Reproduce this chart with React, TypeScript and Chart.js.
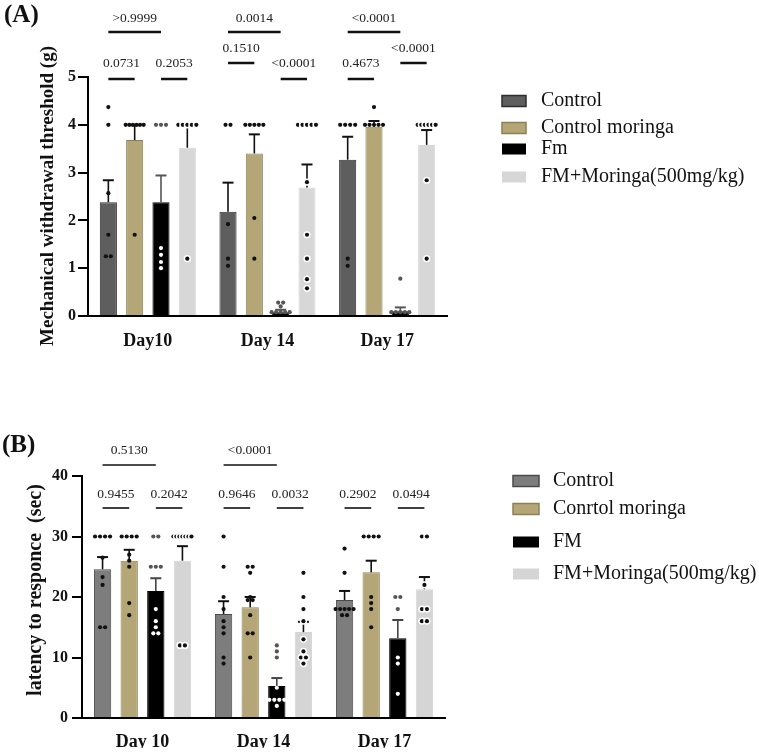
import React, { useEffect, useRef } from 'react';
import { Chart, registerables } from 'chart.js';
Chart.register(...registerables);

const SERIF = "'Liberation Serif', 'Times New Roman', Times, serif";

// ---------------- Panel A data ----------------
const daysA = ['Day10', 'Day 14', 'Day 17'];
const legendA = ['Control', 'Control moringa', 'Fm', 'FM+Moringa(500mg/kg)'];
const yTicksA = [0, 1, 2, 3, 4, 5];
const meanA_control = [2.38, 2.18, 3.27];
const meanA_controlMoringa = [3.68, 3.4, 3.96];
const meanA_fm = [2.38, 0.08, 0.1];
const meanA_fmMoringa = [3.52, 2.69, 3.58];
const semA_control = [0.46, 0.61, 0.48];
const semA_controlMoringa = [0.31, 0.4, 0.12];
const semA_fm = [0.56, 0.05, 0.08];
const semA_fmMoringa = [0.48, 0.48, 0.31];
const dotsA_control = [[4.37, 4, 2.57, 1.7, 1.25, 1.25], [4, 4, 1.92, 1.2, 1.05], [4, 4, 4, 4, 1.2, 1.05]];
const dotsA_controlMoringa = [[4, 4, 4, 4, 4, 4, 1.7], [4, 4, 4, 4, 4, 2.05, 1.2], [4.37, 4, 4, 4, 4, 4]];
const dotsA_fm = [[4, 4, 4, 1.42, 1.28, 1.13, 1.0], [0.28, 0.28, 0.2, 0.08, 0.08, 0.08, 0.08, 0.08], [0.78, 0.08, 0.08, 0.08, 0.08, 0.08]];
const dotsA_fmMoringa = [[4, 4, 4, 4, 4, 1.2], [4, 4, 4, 4, 4, 2.8, 1.7, 1.2, 0.77, 0.58], [4, 4, 4, 4, 4, 4, 2.84, 1.2]];
const sigA_text = ['>0.9999', '0.0731', '0.2053', '0.0014', '0.1510', '<0.0001', '<0.0001', '0.4673', '<0.0001'];
const sigA_day = [0, 0, 0, 1, 1, 1, 2, 2, 2];
const sigA_from = [0, 0, 2, 0, 0, 2, 0, 0, 2];
const sigA_to = [2, 1, 3, 2, 1, 3, 2, 1, 3];
const sigA_level = [2, 0, 0, 2, 1, 0, 2, 0, 1];

// ---------------- Panel B data ----------------
const daysB = ['Day 10', 'Day 14', 'Day 17'];
const legendB = ['Control', 'Conrtol moringa', 'FM', 'FM+Moringa(500mg/kg)'];
const yTicksB = [0, 10, 20, 30, 40];
const meanB_control = [24.6, 17.2, 19.5];
const meanB_controlMoringa = [26.0, 18.3, 24.1];
const meanB_fm = [21.0, 5.3, 13.2];
const meanB_fmMoringa = [26.0, 14.2, 21.3];
const semB_control = [2.0, 2.1, 1.5];
const semB_controlMoringa = [1.8, 1.7, 1.9];
const semB_fm = [2.1, 1.3, 3.0];
const semB_fmMoringa = [2.4, 1.7, 2.0];
const dotsB_control = [[30, 30, 30, 30, 26.5, 23.3, 22, 15, 15], [30, 25, 20, 18, 16, 15, 14, 10, 9], [28, 24, 18, 18, 18, 18, 18, 17, 17]];
const dotsB_controlMoringa = [[30, 30, 30, 30, 27, 26, 25, 19, 17], [25, 25, 24, 20, 19.5, 19.5, 17, 14, 14, 10], [30, 30, 30, 30, 20, 19, 18, 15]];
const dotsB_fm = [[30, 30, 25, 25, 25, 18, 16, 15, 14, 14], [12, 11, 10, 5, 3, 3, 3, 3, 2], [20, 20, 18, 10, 9, 4]];
const dotsB_fmMoringa = [[30, 30, 30, 30, 30, 30, 30, 12, 12], [24, 20, 18, 16, 13, 11, 10, 10, 9], [30, 30, 22, 18, 18, 16, 16]];
const sigB_text = ['0.5130', '0.9455', '0.2042', '<0.0001', '0.9646', '0.0032', '0.2902', '0.0494'];
const sigB_day = [0, 0, 0, 1, 1, 1, 2, 2];
const sigB_from = [0, 0, 2, 0, 0, 2, 0, 2];
const sigB_to = [2, 1, 3, 2, 1, 3, 1, 3];
const sigB_level = [1, 0, 0, 1, 0, 0, 0, 0];

type Panel = {
  id: string;
  tag: string;
  yTitle: string;
  days: string[];
  legend: string[];
  yTicks: number[];
  means: number[][];
  sems: number[][];
  dots: number[][][];
  sigText: string[];
  sigDay: number[];
  sigFrom: number[];
  sigTo: number[];
  sigLevel: number[];
  width: number;
  height: number;
  left: number;
  right: number;
  top: number;
  bottom: number;
  xAxisH: number;
  xLabelPad: number;
  yLabelPad: number;
  colors: string[];
  borders: string[];
  errColors: string[];
  lineOff: number[];
  textOff: number[];
  sigWidth: number;
  tagX: number;
  tagY: number;
  yTitleX: number;
  yTitleY: number;
  yTitleSize: number;
  legBoxX: number;
  legBoxW: number;
  legBoxH: number;
  legTextX: number;
  legRows: number[];
};

const PANEL_A: Panel = {
  id: 'A',
  tag: '(A)',
  yTitle: 'Mechanical withdrawal threshold (g)',
  days: daysA,
  legend: legendA,
  yTicks: yTicksA,
  means: [meanA_control, meanA_controlMoringa, meanA_fm, meanA_fmMoringa],
  sems: [semA_control, semA_controlMoringa, semA_fm, semA_fmMoringa],
  dots: [dotsA_control, dotsA_controlMoringa, dotsA_fm, dotsA_fmMoringa],
  sigText: sigA_text,
  sigDay: sigA_day,
  sigFrom: sigA_from,
  sigTo: sigA_to,
  sigLevel: sigA_level,
  width: 759,
  height: 370,
  left: 88,
  right: 447,
  top: 77,
  bottom: 316,
  xAxisH: 40,
  xLabelPad: 15,
  yLabelPad: 2,
  colors: ['#5e5e5e', '#b4a676', '#000000', '#d7d7d7'],
  borders: ['#2e2e2e', '#8e8056', '#000000', '#d7d7d7'],
  errColors: ['#111111', '#111111', '#555555', '#111111'],
  lineOff: [2, -14, -45],
  textOff: [-14, -29, -59],
  sigWidth: 2.5,
  tagX: 4,
  tagY: 16,
  yTitleX: 48,
  yTitleY: 196,
  yTitleSize: 19,
  legBoxX: 502,
  legBoxW: 24,
  legBoxH: 11,
  legTextX: 541,
  legRows: [101, 128, 149, 177],
};

const PANEL_B: Panel = {
  id: 'B',
  tag: '(B)',
  yTitle: 'latency to responce  (sec)',
  days: daysB,
  legend: legendB,
  yTicks: yTicksB,
  means: [meanB_control, meanB_controlMoringa, meanB_fm, meanB_fmMoringa],
  sems: [semB_control, semB_controlMoringa, semB_fm, semB_fmMoringa],
  dots: [dotsB_control, dotsB_controlMoringa, dotsB_fm, dotsB_fmMoringa],
  sigText: sigB_text,
  sigDay: sigB_day,
  sigFrom: sigB_from,
  sigTo: sigB_to,
  sigLevel: sigB_level,
  width: 759,
  height: 384,
  left: 82,
  right: 445,
  top: 106,
  bottom: 348,
  xAxisH: 30,
  xLabelPad: 14,
  yLabelPad: 4,
  colors: ['#7d7d7d', '#b4a676', '#000000', '#d5d5d5'],
  borders: ['#4a4a4a', '#8e8056', '#000000', '#d5d5d5'],
  errColors: ['#111111', '#111111', '#444444', '#111111'],
  lineOff: [32, -11],
  textOff: [18, -26],
  sigWidth: 1.6,
  tagX: 2,
  tagY: 76,
  yTitleX: 36,
  yTitleY: 220,
  yTitleSize: 20,
  legBoxX: 513,
  legBoxW: 26,
  legBoxH: 11,
  legTextX: 553,
  legRows: [111, 139, 172, 204],
};

function makeOverlay(p: Panel) {
  const yMax = p.yTicks[p.yTicks.length - 1];
  return {
    id: 'overlay' + p.id,
    afterDatasetsDraw(chart: any) {
      const ctx: CanvasRenderingContext2D = chart.ctx;
      const ys = chart.scales.y;
      // error bars (mean + SEM)
      p.means.forEach((arr, si) => {
        const meta = chart.getDatasetMeta(si);
        arr.forEach((m, di) => {
          const bar: any = meta.data[di];
          const x = bar.x;
          const yM = ys.getPixelForValue(m);
          const yT = ys.getPixelForValue(m + p.sems[si][di]);
          ctx.save();
          ctx.strokeStyle = p.errColors[si];
          ctx.lineWidth = 1.6;
          ctx.beginPath();
          ctx.moveTo(x, yM);
          ctx.lineTo(x, yT);
          ctx.stroke();
          ctx.lineWidth = 2;
          ctx.beginPath();
          ctx.moveTo(x - 5.5, yT);
          ctx.lineTo(x + 5.5, yT);
          ctx.stroke();
          ctx.restore();
        });
      });
      // individual points
      p.dots.forEach((perDay, si) => {
        const meta = chart.getDatasetMeta(si);
        perDay.forEach((vals, di) => {
          const bar: any = meta.data[di];
          const x = bar.x;
          const mean = p.means[si][di];
          const counts = new Map<number, number>();
          vals.forEach((v) => counts.set(v, (counts.get(v) || 0) + 1));
          counts.forEach((n, v) => {
            const gap = n > 1 ? Math.min(5, 18 / (n - 1)) : 0;
            const yy = ys.getPixelForValue(v);
            for (let k = 0; k < n; k++) {
              const xx = x + (k - (n - 1) / 2) * gap;
              ctx.save();
              if (si === 3) {
                ctx.fillStyle = '#ffffff';
                ctx.beginPath();
                ctx.arc(xx, yy, 3.6, 0, Math.PI * 2);
                ctx.fill();
                ctx.fillStyle = '#111111';
              } else if (si === 2) {
                ctx.fillStyle = v < mean && mean > yMax * 0.05 ? '#ffffff' : '#555555';
              } else {
                ctx.fillStyle = '#111111';
              }
              ctx.beginPath();
              ctx.arc(xx, yy, 2.1, 0, Math.PI * 2);
              ctx.fill();
              ctx.restore();
            }
          });
        });
      });
    },
    afterDraw(chart: any) {
      const ctx: CanvasRenderingContext2D = chart.ctx;
      const top = chart.chartArea.top;
      ctx.save();
      // panel tag
      ctx.fillStyle = '#111';
      ctx.font = `bold 25px ${SERIF}`;
      ctx.textAlign = 'left';
      ctx.textBaseline = 'middle';
      ctx.fillText(p.tag, p.tagX, p.tagY);
      // y title
      ctx.save();
      ctx.translate(p.yTitleX, p.yTitleY);
      ctx.rotate(-Math.PI / 2);
      ctx.font = `bold ${p.yTitleSize}px ${SERIF}`;
      ctx.textAlign = 'center';
      ctx.textBaseline = 'middle';
      ctx.fillText(p.yTitle, 0, 0);
      ctx.restore();
      // significance bars
      p.sigText.forEach((t, i) => {
        const d = p.sigDay[i];
        const x1 = (chart.getDatasetMeta(p.sigFrom[i]).data[d] as any).x;
        const x2 = (chart.getDatasetMeta(p.sigTo[i]).data[d] as any).x;
        const lv = p.sigLevel[i];
        const ly = top + p.lineOff[lv];
        const ty = top + p.textOff[lv];
        ctx.strokeStyle = '#111';
        ctx.lineWidth = p.sigWidth;
        ctx.beginPath();
        ctx.moveTo(x1, ly);
        ctx.lineTo(x2, ly);
        ctx.stroke();
        ctx.fillStyle = '#222';
        ctx.font = `13.5px ${SERIF}`;
        ctx.textAlign = 'center';
        ctx.textBaseline = 'middle';
        ctx.fillText(t, (x1 + x2) / 2, ty);
      });
      // legend
      p.legend.forEach((name, i) => {
        const cy = p.legRows[i];
        ctx.fillStyle = p.colors[i];
        ctx.fillRect(p.legBoxX, cy - p.legBoxH / 2, p.legBoxW, p.legBoxH);
        if (i < 2) {
          ctx.strokeStyle = p.borders[i];
          ctx.lineWidth = 1.5;
          ctx.strokeRect(p.legBoxX, cy - p.legBoxH / 2, p.legBoxW, p.legBoxH);
        }
        ctx.fillStyle = '#111';
        ctx.font = `20px ${SERIF}`;
        ctx.textAlign = 'left';
        ctx.textBaseline = 'middle';
        ctx.fillText(name, p.legTextX, cy);
      });
      ctx.restore();
    },
  };
}

function buildChart(canvas: HTMLCanvasElement, p: Panel) {
  return new Chart(canvas, {
    type: 'bar',
    data: {
      labels: p.days,
      datasets: p.means.map((m, i) => ({
        label: p.legend[i],
        data: m,
        backgroundColor: p.colors[i],
        borderColor: p.borders[i],
        borderWidth: 1,
        categoryPercentage: 0.88,
        barPercentage: 0.65,
      })),
    },
    options: {
      responsive: false,
      animation: false,
      devicePixelRatio: 1,
      layout: {
        padding: {
          left: 0,
          top: p.top,
          right: p.width - p.right,
          bottom: p.height - p.bottom - p.xAxisH,
        },
      },
      plugins: {
        legend: { display: false },
        tooltip: { enabled: false },
        title: { display: false },
      },
      scales: {
        x: {
          grid: { display: false, drawTicks: false },
          border: { display: true, color: '#000', width: 2 },
          ticks: {
            color: '#111',
            font: { family: SERIF, size: 18, weight: 'bold' },
            padding: p.xLabelPad,
          },
          afterFit: (s: any) => {
            s.height = p.xAxisH;
          },
        },
        y: {
          min: p.yTicks[0],
          max: p.yTicks[p.yTicks.length - 1],
          afterBuildTicks: (s: any) => {
            s.ticks = p.yTicks.map((v) => ({ value: v }));
          },
          grid: {
            display: true,
            drawOnChartArea: false,
            drawTicks: true,
            tickLength: 10,
            color: '#000',
            lineWidth: 2,
          },
          border: { display: true, color: '#000', width: 2 },
          ticks: {
            color: '#111',
            font: { family: SERIF, size: 16, weight: 'bold' },
            padding: p.yLabelPad,
          },
          afterFit: (s: any) => {
            s.width = p.left;
          },
        },
      },
    } as any,
    plugins: [makeOverlay(p)],
  });
}

export default function App() {
  const refA = useRef<HTMLCanvasElement>(null);
  const refB = useRef<HTMLCanvasElement>(null);
  useEffect(() => {
    const a = buildChart(refA.current!, PANEL_A);
    const b = buildChart(refB.current!, PANEL_B);
    return () => {
      a.destroy();
      b.destroy();
    };
  }, []);
  return (
    <div style={{ position: 'absolute', left: 0, top: 0, width: 759, height: 754, background: '#fff' }}>
      <canvas ref={refA} width={759} height={370} style={{ display: 'block', width: 759, height: 370 }} />
      <canvas ref={refB} width={759} height={384} style={{ display: 'block', width: 759, height: 384 }} />
    </div>
  );
}
